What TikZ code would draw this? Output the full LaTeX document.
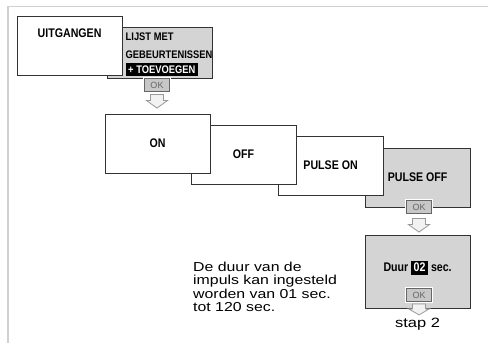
\documentclass[tikz,border=0pt]{standalone}
\usepackage{fontspec}
\setmainfont{Liberation Sans}
\newfontfamily\condfont[FakeStretch=0.85]{Liberation Sans}
\newfontfamily\widefont[FakeStretch=1.22]{Liberation Sans}
\setlength{\fboxsep}{2.5pt}
\usetikzlibrary{positioning}

\begin{document}
\begin{tikzpicture}[x=1pt,y=-1pt,
    screen/.style={draw=black!80,line width=1.2pt,fill=white,minimum width=105pt,minimum height=59pt,
      anchor=north west,inner sep=0pt,font=\condfont\bfseries\fontsize{12.5}{14}\selectfont},
    active/.style={screen,fill=black!17},
    screentext/.style={inner sep=0pt,font=\condfont\bfseries\fontsize{12.5}{14}\selectfont},
    okbutton/.style={draw=black!60,fill=black!22,line width=0.6pt,minimum width=25pt,minimum height=12.5pt,
      inner sep=0pt,text=black!60,font=\fontsize{9}{9}\selectfont,preaction={draw=white,line width=3pt}},
    note/.style={inner sep=0pt,font=\widefont\fontsize{13}{13.3}\selectfont},
    pics/downarrow/.style={code={
      \draw[draw=black!40,fill=black!5,line width=0.8pt]
        (-6.5,0) -- (6.5,0) -- (6.5,6) -- (10.5,6) -- (0,13.5) -- (-10.5,6) -- (-6.5,6) -- cycle;}}]
    \useasboundingbox (0,0) rectangle (488,343);

    % Frame
    \draw[black!18,line width=1.5pt] (488,6.5) -- (8,6.5) -- (8,343);

    % Outputs and event list
    \node[active,minimum height=51pt] (lijst) at (106.5,26.5) {};
    \node[screen] (uit) at (16.5,15.5) {};
    \node[screentext] (uittext) at ([yshift=-18pt]uit.north) {UITGANGEN};
    \node[anchor=north west,inner sep=0pt,align=left,font=\condfont\bfseries\fontsize{11}{15}\selectfont]
      (lijsttext) at (125.5,33) {LIJST MET\\[2.5pt]GEBEURTENISSEN\\\colorbox{black}{\color{white}+ TOEVOEGEN}};
    \node[okbutton] (ok1) at (157,85) {OK};
    \pic at ([yshift=-3pt]ok1.south) {downarrow};

    % Modes
    \node[active] (pulseoff) at (364.5,147.5) {PULSE OFF};
    \node[screen] (pulseon) at (277.5,135.5) {PULSE ON};
    \node[screen] (off) at (190.5,124.5) {OFF};
    \node[screen] (on) at (104.5,113.5) {ON};
    \node[okbutton] (ok2) at (419,207) {OK};
    \pic at ([yshift=-5pt]ok2.south) {downarrow};

    % Pulse duration
    \node[active,minimum height=73pt] (duur) at (364.5,234.5) {};
    \node[screentext] (duurtext) at ([yshift=4pt]duur.center) {Duur \colorbox{black}{\color{white}02} sec.};
    \node[okbutton] (ok3) at (419,295) {OK};
    \pic[yscale=0.8] at ([yshift=-2.5pt]ok3.south) {downarrow};
    \node[note,anchor=base,font=\widefont\fontsize{13.5}{14}\selectfont] (stap) at ([yshift=-19pt]duur.south) {stap 2};

    % Explanation
    \node[note,anchor=north west,align=left] (duration) at (193,262)
      {De duur van de\\impuls kan ingesteld\\worden van 01 sec.\\tot 120 sec.};
\end{tikzpicture}
\end{document}
